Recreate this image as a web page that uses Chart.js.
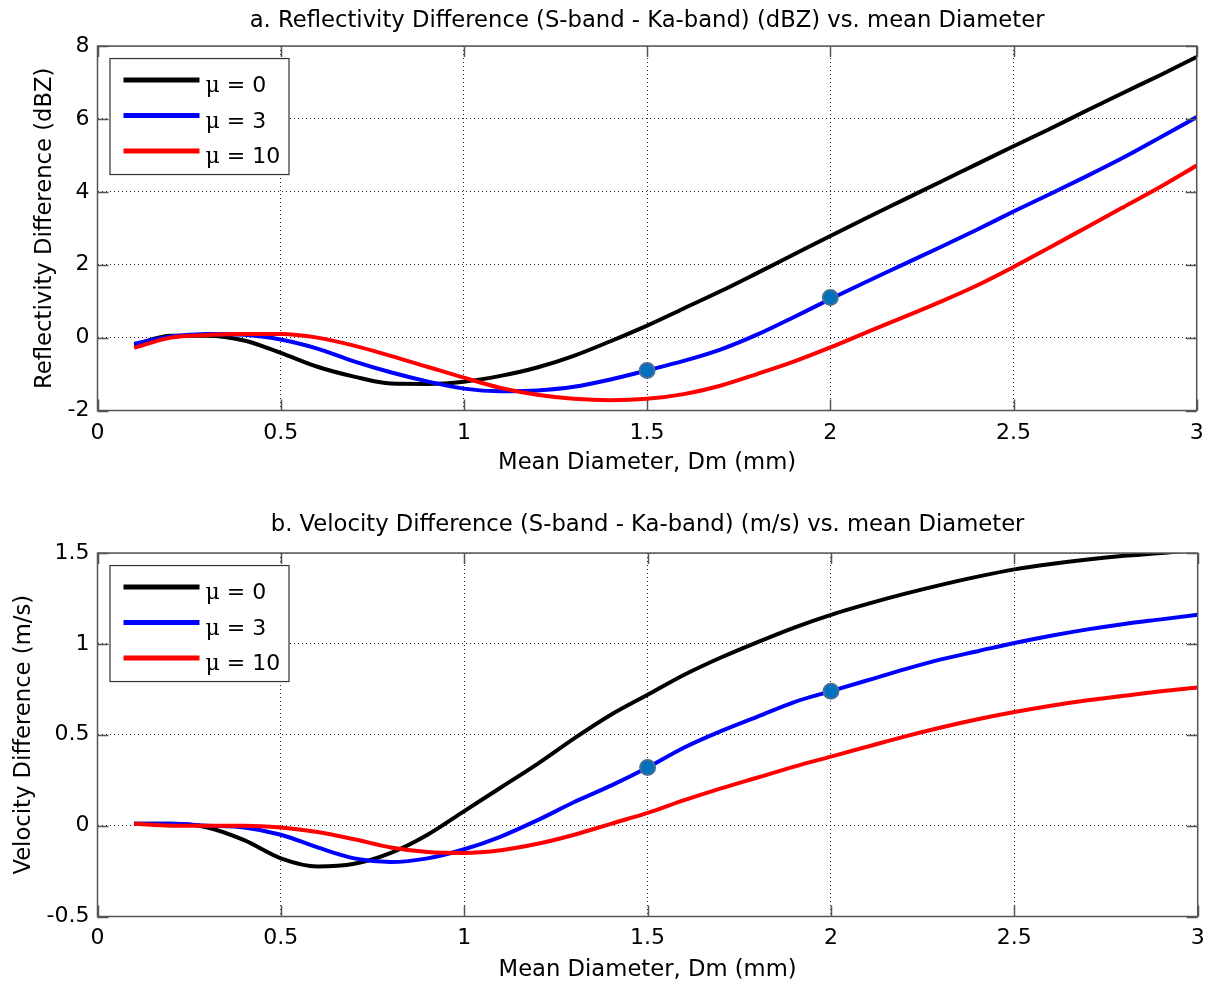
<!DOCTYPE html>
<html>
<head>
<meta charset="utf-8">
<script src="https://cdn.jsdelivr.net/npm/chart.js@4.4.1/dist/chart.umd.min.js"></script>
<style>
  html, body { margin: 0; padding: 0; background: #ffffff; }
  #wrap { position: relative; width: 1213px; height: 984px; overflow: hidden; }
  canvas { position: absolute; left: 0; }
  #c1 { top: 0; }
  #c2 { top: 492px; }
</style>
</head>
<body>
<div id="wrap">
  <canvas id="c1" width="1213" height="492" style="width:1213px;height:492px"></canvas>
  <canvas id="c2" width="1213" height="492" style="width:1213px;height:492px"></canvas>
</div>
<script>
// ---------------- DATA ----------------
const xValues = [0.1, 0.2, 0.3, 0.4, 0.5, 0.6, 0.7, 0.8, 0.9, 1.0,
                 1.1, 1.2, 1.3, 1.4, 1.5, 1.6, 1.7, 1.8, 1.9, 2.0,
                 2.1, 2.2, 2.3, 2.4, 2.5, 2.6, 2.7, 2.8, 2.9, 3.0];

const seriesLabels = ['\u03bc = 0', '\u03bc = 3', '\u03bc = 10'];

// a. Reflectivity difference (dBZ)
const reflMu0  = [-0.20, 0.05, 0.05, -0.08, -0.42, -0.80, -1.07, -1.26, -1.27, -1.21,
                  -1.05, -0.82, -0.50, -0.10, 0.33, 0.80, 1.27, 1.77, 2.28, 2.79,
                  3.29, 3.78, 4.27, 4.76, 5.25, 5.73, 6.23, 6.72, 7.20, 7.70];
const reflMu3  = [-0.17, 0.03, 0.10, 0.08, -0.05, -0.30, -0.65, -0.95, -1.20, -1.40,
                  -1.47, -1.45, -1.35, -1.15, -0.90, -0.64, -0.33, 0.08, 0.56, 1.06,
                  1.54, 2.01, 2.48, 2.96, 3.46, 3.94, 4.43, 4.94, 5.49, 6.05];
const reflMu10 = [-0.28, 0.00, 0.07, 0.10, 0.10, 0.00, -0.22, -0.50, -0.80, -1.10,
                  -1.38, -1.57, -1.68, -1.72, -1.68, -1.55, -1.32, -1.00, -0.66, -0.27,
                  0.15, 0.56, 0.98, 1.43, 1.94, 2.48, 3.03, 3.58, 4.13, 4.72];

// b. Velocity difference (m/s)
const velMu0  = [0.01, 0.01, -0.01, -0.08, -0.18, -0.225, -0.21, -0.15, -0.05, 0.08,
                 0.21, 0.34, 0.48, 0.61, 0.72, 0.83, 0.925, 1.01, 1.09, 1.16,
                 1.22, 1.275, 1.325, 1.37, 1.41, 1.44, 1.465, 1.485, 1.50, 1.52];
const velMu3  = [0.01, 0.01, 0.00, -0.01, -0.05, -0.12, -0.18, -0.20, -0.18, -0.13,
                 -0.06, 0.03, 0.13, 0.22, 0.32, 0.43, 0.52, 0.60, 0.68, 0.74,
                 0.80, 0.86, 0.915, 0.96, 1.005, 1.045, 1.08, 1.11, 1.135, 1.16];
const velMu10 = [0.01, 0.00, 0.00, 0.00, -0.01, -0.035, -0.075, -0.12, -0.145, -0.15,
                 -0.135, -0.10, -0.05, 0.01, 0.07, 0.14, 0.205, 0.265, 0.325, 0.38,
                 0.435, 0.49, 0.54, 0.585, 0.625, 0.66, 0.69, 0.715, 0.74, 0.76];

// highlighted points on the mu = 3 curves
const markerX       = [1.5, 2.0];
const reflMarkerY   = [-0.90, 1.10];
const velMarkerY    = [0.32, 0.74];

// tick values
const xTickValues    = [0, 0.5, 1, 1.5, 2, 2.5, 3];
const reflTickValues = [-2, 0, 2, 4, 6, 8];
const velTickValues  = [-0.5, 0, 0.5, 1, 1.5];

const titles = {
  refl: 'a. Reflectivity Difference (S-band - Ka-band) (dBZ) vs. mean Diameter',
  vel:  'b. Velocity Difference (S-band - Ka-band) (m/s) vs. mean Diameter',
  reflY: 'Reflectivity Difference (dBZ)',
  velY: 'Velocity Difference (m/s)',
  x: 'Mean Diameter, Dm (mm)'
};

// ---------------- STYLE ----------------
const FONT = "'DejaVu Sans', 'Liberation Sans', Arial, sans-serif";
const MU_FONT = "'DejaVu Serif', 'Liberation Serif', serif";
const FS = 22;
const TFS = 22.7;
const seriesColors = ['#000000', '#0000ff', '#ff0000'];
const AXIS_COLOR = '#555555';

Chart.defaults.font.family = FONT;
Chart.defaults.font.size = FS;
Chart.defaults.color = '#000000';

function pts(xs, ys) { return xs.map((x, i) => ({ x: x, y: ys[i] })); }

const framePlugin = {
  id: 'matlabFrame',
  afterDraw(chart) {
    const { ctx, chartArea: a, scales } = chart;
    ctx.save();
    // inward tick marks
    ctx.strokeStyle = AXIS_COLOR;
    ctx.lineWidth = 1.5;
    ctx.beginPath();
    const L = 11;
    scales.x.ticks.forEach(t => {
      const px = Math.round(scales.x.getPixelForValue(t.value)) + 0.5;
      ctx.moveTo(px, a.bottom); ctx.lineTo(px, a.bottom - L);
      ctx.moveTo(px, a.top); ctx.lineTo(px, a.top + L);
    });
    scales.y.ticks.forEach(t => {
      const py = Math.round(scales.y.getPixelForValue(t.value)) + 0.5;
      ctx.moveTo(a.left, py); ctx.lineTo(a.left + L, py);
      ctx.moveTo(a.right, py); ctx.lineTo(a.right - L, py);
    });
    ctx.stroke();
    // box
    ctx.strokeRect(a.left, a.top, a.right - a.left, a.bottom - a.top);

    // legend
    const items = chart.data.datasets.filter(d => d.inLegend);
    const bx = a.left + 12, by = a.top + 12, bw = 179, bh = 116;
    ctx.fillStyle = '#ffffff';
    ctx.fillRect(bx, by, bw, bh);
    ctx.strokeStyle = '#333333';
    ctx.lineWidth = 1.2;
    ctx.strokeRect(bx + 0.5, by + 0.5, bw, bh);
    ctx.textAlign = 'left';
    ctx.textBaseline = 'alphabetic';
    items.forEach((d, i) => {
      const ry = by + 22 + i * 35.5;
      ctx.strokeStyle = d.borderColor;
      ctx.lineWidth = 5;
      ctx.beginPath();
      ctx.moveTo(bx + 14, ry);
      ctx.lineTo(bx + 90, ry);
      ctx.stroke();
      ctx.fillStyle = '#000000';
      const lbl = d.label;
      const greek = lbl.charAt(0);
      const rest = lbl.slice(1);
      ctx.font = FS + 'px ' + MU_FONT;
      ctx.fillText(greek, bx + 96, ry + 12);
      const gw = ctx.measureText(greek).width;
      ctx.font = FS + 'px ' + FONT;
      ctx.fillText(rest, bx + 96 + gw, ry + 12);
    });
    ctx.restore();
  }
};

function makeChart(canvasId, cfg) {
  const datasets = cfg.series.map((ys, i) => ({
    label: seriesLabels[i],
    data: pts(xValues, ys),
    borderColor: seriesColors[i],
    backgroundColor: seriesColors[i],
    borderWidth: 4,
    pointRadius: 0,
    cubicInterpolationMode: 'monotone',
    inLegend: true,
    clip: 0,
    order: 3 - i
  }));
  datasets.push({
    label: 'markers',
    type: 'scatter',
    data: pts(markerX, cfg.markers),
    showLine: false,
    pointRadius: 7.5,
    pointBorderWidth: 2,
    pointBackgroundColor: '#0070c0',
    pointBorderColor: '#4a6f93',
    inLegend: false,
    clip: false,
    order: 0
  });

  return new Chart(document.getElementById(canvasId), {
    type: 'line',
    data: { datasets: datasets },
    options: {
      responsive: false,
      animation: false,
      devicePixelRatio: 1,
      layout: { padding: { left: 0, right: 11, top: 0, bottom: 0 } },
      plugins: {
        legend: { display: false },
        tooltip: { enabled: false },
        title: {
          display: true,
          text: cfg.title,
          fullSize: false,
          color: '#000000',
          font: { size: TFS, weight: 'normal', family: FONT },
          padding: { top: cfg.titlePadTop, bottom: cfg.titlePadBottom }
        }
      },
      scales: {
        x: {
          type: 'linear',
          min: 0, max: 3,
          afterBuildTicks: s => { s.ticks = xTickValues.map(v => ({ value: v })); },
          afterFit: s => { s.height = cfg.xAxisHeight; },
          ticks: {
            padding: cfg.xTickPad,
            color: '#000000',
            font: { size: FS, family: FONT },
            maxRotation: 0,
            autoSkip: false,
            callback: v => String(v)
          },
          grid: { drawTicks: false, color: 'rgba(0,0,0,0.85)', lineWidth: 1 },
          border: { display: false, dash: [1, 3] },
          title: {
            display: true,
            text: titles.x,
            color: '#000000',
            font: { size: TFS, family: FONT },
            padding: { top: 0, bottom: cfg.xTitlePadBottom }
          }
        },
        y: {
          type: 'linear',
          min: cfg.yMin, max: cfg.yMax,
          afterBuildTicks: s => { s.ticks = cfg.yTicks.map(v => ({ value: v })); },
          afterFit: s => { s.width = 97.5; },
          ticks: {
            padding: 8,
            color: '#000000',
            font: { size: FS, family: FONT },
            autoSkip: false,
            callback: v => String(v)
          },
          grid: { drawTicks: false, color: 'rgba(0,0,0,0.85)', lineWidth: 1 },
          border: { display: false, dash: [1, 3] },
          title: {
            display: true,
            text: cfg.yTitle,
            color: '#000000',
            font: { size: TFS, family: FONT },
            padding: { top: cfg.yTitlePadTop, bottom: 0 }
          }
        }
      }
    },
    plugins: [framePlugin]
  });
}

makeChart('c1', {
  series: [reflMu0, reflMu3, reflMu10],
  markers: reflMarkerY,
  title: titles.refl,
  yTitle: titles.reflY,
  yMin: -2, yMax: 8,
  yTicks: reflTickValues,
  titlePadTop: 7, titlePadBottom: 11.8,
  xAxisHeight: 81.5,
  xTickPad: 9.3,
  xTitlePadBottom: 15.4,
  yTitlePadTop: 31.4
});

makeChart('c2', {
  series: [velMu0, velMu3, velMu10],
  markers: velMarkerY,
  title: titles.vel,
  yTitle: titles.velY,
  yMin: -0.5, yMax: 1.5,
  yTicks: velTickValues,
  titlePadTop: 19.4, titlePadBottom: 14.4,
  xAxisHeight: 67.5,
  xTickPad: 8.3,
  xTitlePadBottom: 0.4,
  yTitlePadTop: 10.4
});
</script>
</body>
</html>
